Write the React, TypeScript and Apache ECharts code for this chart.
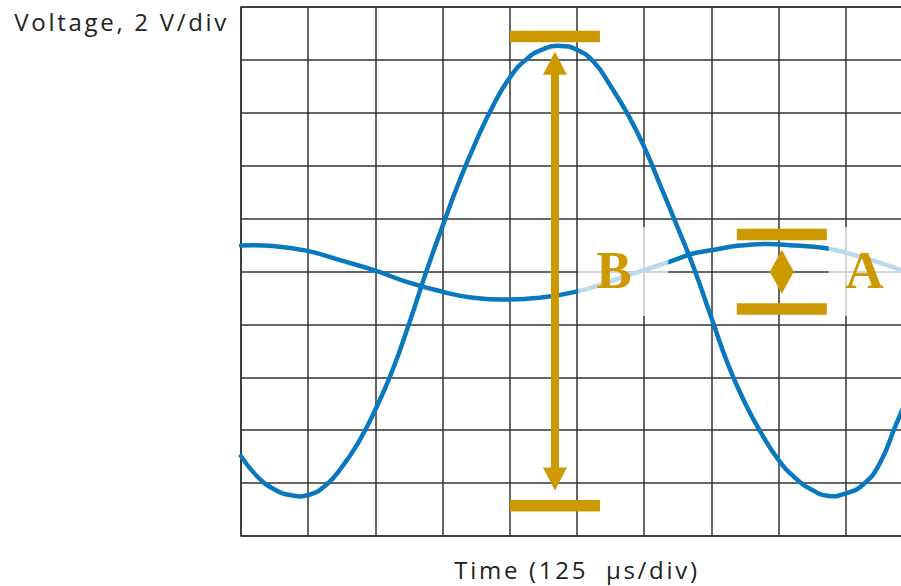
import { useEffect, useRef } from "react";
import * as echarts from "echarts";

// Oscilloscope screen: 10 x 10 divisions, 125 µs/div horizontally, 2 V/div vertically
const US_PER_DIV = 125;
const VOLTS_PER_DIV = 2;
const X_DIVS = 10;
const Y_DIVS = 10;

// Large trace, sampled every quarter division (time in µs, voltage in V)
const largeT = [0, 31.25, 62.5, 93.75, 125, 156.25, 187.5, 218.75, 250, 281.25, 312.5, 343.75, 375, 406.25, 437.5, 468.75, 500, 531.25, 562.5, 593.75, 625, 656.25, 687.5, 718.75, 750, 781.25, 812.5, 843.75, 875, 906.25, 937.5, 968.75, 1000, 1031.25, 1062.5, 1093.75, 1125, 1156.25, 1187.5, 1218.75, 1250];
const largeV = [-6.98, -7.77, -8.24, -8.46, -8.45, -8.11, -7.4, -6.45, -5.22, -3.76, -1.98, -0.06, 1.72, 3.42, 4.93, 6.26, 7.33, 8.03, 8.41, 8.53, 8.38, 7.92, 7.01, 5.97, 4.71, 3.19, 1.65, 0.06, -1.75, -3.53, -4.97, -6.15, -7.13, -7.81, -8.26, -8.49, -8.39, -8.07, -7.28, -5.77, -4.3];

// Small trace
const smallT = [0, 60, 124, 184, 249, 308, 374, 432, 499, 556, 624, 686, 748, 798, 841, 878, 928, 978, 1030, 1089, 1151, 1228];
const smallV = [0.98, 0.96, 0.78, 0.43, 0.04, -0.39, -0.76, -0.99, -1.06, -0.99, -0.76, -0.38, 0.04, 0.37, 0.68, 0.81, 0.98, 1.04, 0.98, 0.88, 0.56, 0.06];

// Peak-to-peak markers: [time µs, high V, low V]
const rangeMarks = [
  [584, 8.53, -8.5],
  [1006, 1.04, -1.06],
];

// Marker letters and where they sit
const markerNames = ["B", "A"];
const markerT = [696, 1162];
const markerV = [0, 0];

const GOLD = "#cc9900";
const BLUE = "#0a78bf";
const GRID = "#333333";
const TEXT = "#222222";

// A trace drawn as one smooth curve through its samples, placed by the axes
function traceSeries(ts: number[], vs: number[]) {
  const data = ts.map((t, i) => [t, vs[i]]);
  return {
    type: "custom",
    data,
    z: 2,
    clip: false,
    encode: { x: 0, y: 1 },
    renderItem: (params: any, api: any) => {
      if (params.dataIndex !== 0) return null;
      const points = data.map((d) => api.coord(d));
      return {
        type: "polyline",
        shape: { points, smooth: 0.5 },
        style: { stroke: BLUE, lineWidth: 4.5, fill: null, lineJoin: "round", lineCap: "round" },
      };
    },
  };
}

export default function App() {
  const ref = useRef<HTMLDivElement>(null);

  useEffect(() => {
    if (!ref.current) return;
    const chart = echarts.init(ref.current, null, { renderer: "svg" });

    const labelData = markerT.map((t, i) => [t, markerV[i]]);

    const option: any = {
      animation: false,
      grid: {
        left: 241,
        top: 7,
        width: 672,
        height: 529,
        outerBoundsMode: "none",
        show: true,
        borderColor: GRID,
        borderWidth: 1.5,
        backgroundColor: "#ffffff",
      },
      xAxis: {
        type: "value",
        min: 0,
        max: US_PER_DIV * X_DIVS,
        interval: US_PER_DIV,
        name: "Time (125\u00a0 \u03bcs/div)",
        nameLocation: "middle",
        nameGap: 33,
        nameTextStyle: {
          fontFamily: "Open Sans",
          fontSize: 24,
          color: TEXT,
          verticalAlign: "middle",
        },
        axisLine: { show: false },
        axisTick: { show: false },
        axisLabel: { show: false },
        splitLine: { show: true, lineStyle: { color: GRID, width: 1.5 } },
      },
      yAxis: {
        type: "value",
        min: -(VOLTS_PER_DIV * Y_DIVS) / 2,
        max: (VOLTS_PER_DIV * Y_DIVS) / 2,
        interval: VOLTS_PER_DIV,
        name: "Voltage, 2 V/div",
        nameLocation: "end",
        nameGap: -14,
        nameTextStyle: {
          fontFamily: "Open Sans",
          fontSize: 24,
          color: TEXT,
          align: "right",
          verticalAlign: "middle",
          padding: [0, 12, 0, 0],
        },
        axisLine: { show: false },
        axisTick: { show: false },
        axisLabel: { show: false },
        splitLine: { show: true, lineStyle: { color: GRID, width: 1.5 } },
      },
      series: [
        traceSeries(largeT, largeV),
        traceSeries(smallT, smallV),
        {
          // translucent plate and letter for each marker
          type: "custom",
          data: labelData,
          z: 5,
          clip: false,
          renderItem: (params: any, api: any) => {
            const [x, y] = api.coord([api.value(0), api.value(1)]);
            return {
              type: "group",
              children: [
                {
                  type: "rect",
                  shape: { x: x - 37, y: y - 44.5, width: 90, height: 89 },
                  style: { fill: "rgba(255,255,255,0.72)" },
                },
                {
                  type: "text",
                  x,
                  y: y - 1.5,
                  style: {
                    text: markerNames[params.dataIndex],
                    fill: GOLD,
                    fontFamily: "Liberation Serif",
                    fontWeight: "bold",
                    fontSize: 53,
                    align: "center",
                    verticalAlign: "middle",
                  },
                },
              ],
            };
          },
        },
        {
          // gold bars at the extremes with a double arrow between them
          type: "custom",
          data: rangeMarks,
          z: 6,
          clip: false,
          renderItem: (_params: any, api: any) => {
            const t = api.value(0);
            const [x, yHi] = api.coord([t, api.value(1)]);
            const [, yLo] = api.coord([t, api.value(2)]);
            const barW = 90;
            const barH = 11.5;
            const off = 9.5;
            const gap = 9.5;
            const headW = 12;
            const headL = 23;
            const shaft = 4;
            const topBar = yHi - off;
            const botBar = yLo + off;
            const y1 = topBar + barH / 2 + gap;
            const y2 = botBar - barH / 2 - gap;
            let pts: number[][];
            if (y2 - y1 > 2 * headL) {
              pts = [
                [x, y1],
                [x + headW, y1 + headL],
                [x + shaft, y1 + headL],
                [x + shaft, y2 - headL],
                [x + headW, y2 - headL],
                [x, y2],
                [x - headW, y2 - headL],
                [x - shaft, y2 - headL],
                [x - shaft, y1 + headL],
                [x - headW, y1 + headL],
              ];
            } else {
              const m = (y1 + y2) / 2;
              pts = [
                [x, y1],
                [x + headW, m],
                [x, y2],
                [x - headW, m],
              ];
            }
            return {
              type: "group",
              children: [
                {
                  type: "rect",
                  shape: { x: x - barW / 2, y: topBar - barH / 2, width: barW, height: barH },
                  style: { fill: GOLD },
                },
                {
                  type: "rect",
                  shape: { x: x - barW / 2, y: botBar - barH / 2, width: barW, height: barH },
                  style: { fill: GOLD },
                },
                {
                  type: "polygon",
                  shape: { points: pts },
                  style: { fill: GOLD },
                },
              ],
            };
          },
        },
      ],
    };

    chart.setOption(option);
    return () => chart.dispose();
  }, []);

  // The screen runs past the right edge of the view, so the chart is wider than its frame
  return (
    <div
      style={{
        position: "fixed",
        left: 0,
        top: 0,
        width: 901,
        height: 586,
        overflow: "hidden",
        background: "#ffffff",
      }}
    >
      <div
        ref={ref}
        style={{ width: 930, height: 586, letterSpacing: "2.7px" }}
      />
    </div>
  );
}
